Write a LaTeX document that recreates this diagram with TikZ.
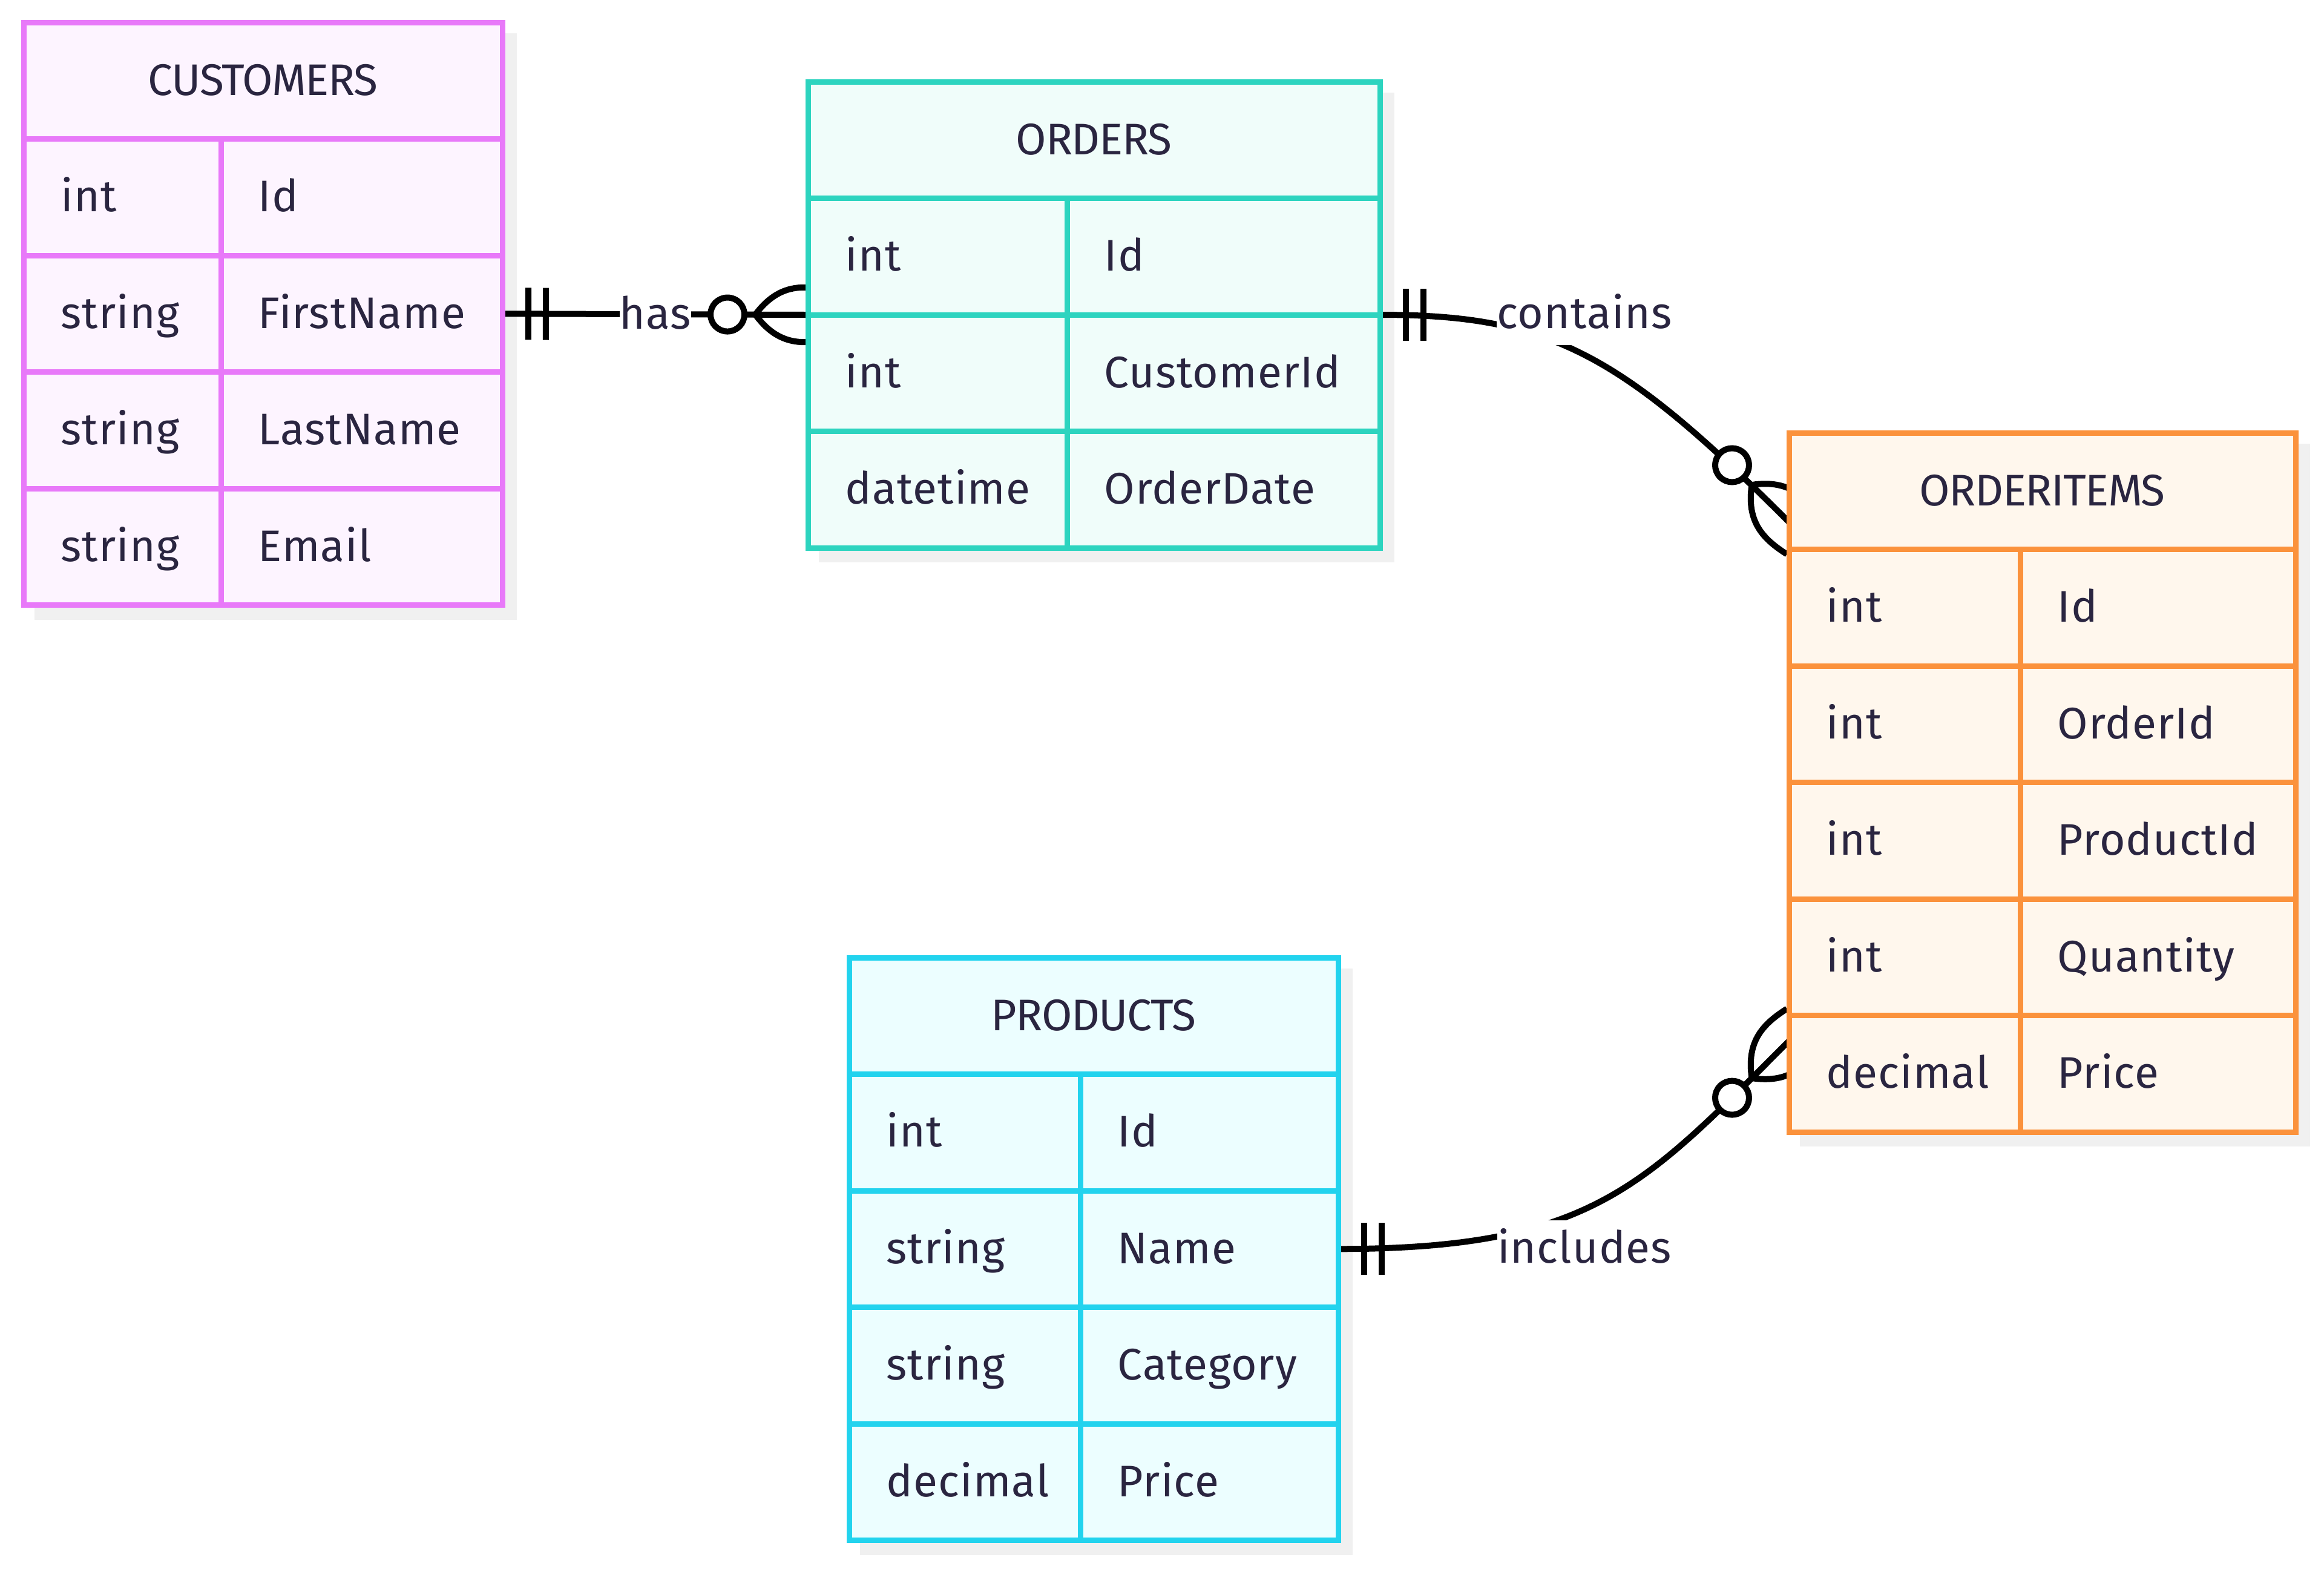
\documentclass[tikz,border=0pt]{standalone}
\usepackage{fontspec}
\setmainfont{Fira Sans}
\usetikzlibrary{positioning,calc}

\definecolor{ink}{HTML}{2A2540}
\definecolor{custline}{HTML}{E879F9}
\definecolor{custfill}{HTML}{FDF4FF}
\definecolor{ordline}{HTML}{2DD4BF}
\definecolor{ordfill}{HTML}{F0FDFA}
\definecolor{itemline}{HTML}{FB923C}
\definecolor{itemfill}{HTML}{FFF7ED}
\definecolor{prodline}{HTML}{22D3EE}
\definecolor{prodfill}{HTML}{ECFEFF}

\newcommand{\erfont}{\fontsize{20.8}{25}\selectfont}

\pgfdeclarelayer{shadow}
\pgfdeclarelayer{links}
\pgfsetlayers{shadow,links,main}

\tikzset{
    onlyone/.pic={
        \draw[link] (0.43,-0.43) -- (0.43,0.43) (0.72,-0.43) -- (0.72,0.43);
    },
    zeromany/.pic={
        \draw[link] (-0.87,0) .. controls (-0.5,0.5) and (-0.1,0.5) .. (0.35,0.4)
                    (-0.87,0) .. controls (-0.5,-0.5) and (-0.1,-0.5) .. (0.35,-0.4);
        \draw[link, fill=white] (-1.33,0) circle (0.28);
    }
}

\begin{document}
\begin{tikzpicture}[
    tbl/.style={draw, line width=0.9mm, inner sep=0pt, outer sep=0pt, anchor=north west},
    rule/.style={line width=0.9mm},
    head/.style={font={\erfont\addfontfeature{LetterSpace=-2}}, text=ink, anchor=base, inner sep=0pt},
    cell/.style={font={\erfont\addfontfeature{LetterSpace=1.5}}, text=ink, anchor=base west, inner sep=0pt},
    lbl/.style={font={\erfont\addfontfeature{LetterSpace=1.5}}, text=ink, fill=white, anchor=base, inner xsep=0pt, inner ysep=0pt, text height=0.7cm, text depth=0.28cm},
    link/.style={line width=1mm, black},
    shade/.style={fill=black!6}
]
\useasboundingbox (0,0) rectangle (38.4,-25.91);

% CUSTOMERS
\node[tbl, draw=custline, fill=custfill, minimum width=7.91cm, minimum height=9.625cm] (customers) at (0.39,-0.37) {};
\node[head] (customers-title) at ($(customers.north)+(0,-1.2)$) {CUSTOMERS};
\draw[rule, custline] ($(customers.north west)+(3.26,-1.925)$) -- ($(customers.south west)+(3.26,0)$);
\foreach \ty/\nm [count=\k from 0] in {int/Id, string/FirstName, string/LastName, string/Email} {
    \draw[rule, custline] ($(customers.north west)+(0,-1.925-1.925*\k)$) -- +(7.91,0);
    \node[cell] (customers-t\k) at ($(customers.north west)+(0.61,-3.1275-1.925*\k)$) {\ty};
    \node[cell] (customers-n\k) at ($(customers.north west)+(3.87,-3.1275-1.925*\k)$) {\nm};
}

% ORDERS
\node[tbl, draw=ordline, fill=ordfill, minimum width=9.45cm, minimum height=7.7cm] (orders) at (13.35,-1.35) {};
\node[head] (orders-title) at ($(orders.north)+(0,-1.2)$) {ORDERS};
\draw[rule, ordline] ($(orders.north west)+(4.28,-1.925)$) -- ($(orders.south west)+(4.28,0)$);
\foreach \ty/\nm [count=\k from 0] in {int/Id, int/CustomerId, datetime/OrderDate} {
    \draw[rule, ordline] ($(orders.north west)+(0,-1.925-1.925*\k)$) -- +(9.45,0);
    \node[cell] (orders-t\k) at ($(orders.north west)+(0.61,-3.1275-1.925*\k)$) {\ty};
    \node[cell] (orders-n\k) at ($(orders.north west)+(4.89,-3.1275-1.925*\k)$) {\nm};
}

% ORDERITEMS
\node[tbl, draw=itemline, fill=itemfill, minimum width=8.37cm, minimum height=11.55cm] (orderitems) at (29.56,-7.15) {};
\node[head] (orderitems-title) at ($(orderitems.north)+(0,-1.2)$) {ORDERITEMS};
\draw[rule, itemline] ($(orderitems.north west)+(3.82,-1.925)$) -- ($(orderitems.south west)+(3.82,0)$);
\foreach \ty/\nm [count=\k from 0] in {int/Id, int/OrderId, int/ProductId, int/Quantity, decimal/Price} {
    \draw[rule, itemline] ($(orderitems.north west)+(0,-1.925-1.925*\k)$) -- +(8.37,0);
    \node[cell] (orderitems-t\k) at ($(orderitems.north west)+(0.61,-3.1275-1.925*\k)$) {\ty};
    \node[cell] (orderitems-n\k) at ($(orderitems.north west)+(4.43,-3.1275-1.925*\k)$) {\nm};
}

% PRODUCTS
\node[tbl, draw=prodline, fill=prodfill, minimum width=8.08cm, minimum height=9.625cm] (products) at (14.03,-15.82) {};
\node[head] (products-title) at ($(products.north)+(0,-1.2)$) {PRODUCTS};
\draw[rule, prodline] ($(products.north west)+(3.82,-1.925)$) -- ($(products.south west)+(3.82,0)$);
\foreach \ty/\nm [count=\k from 0] in {int/Id, string/Name, string/Category, decimal/Price} {
    \draw[rule, prodline] ($(products.north west)+(0,-1.925-1.925*\k)$) -- +(8.08,0);
    \node[cell] (products-t\k) at ($(products.north west)+(0.61,-3.1275-1.925*\k)$) {\ty};
    \node[cell] (products-n\k) at ($(products.north west)+(4.43,-3.1275-1.925*\k)$) {\nm};
}

% Shadows
\begin{pgfonlayer}{shadow}
\foreach \t in {customers, orders, orderitems, products}
    \fill[shade] ([shift={(0.18,-0.18)}]\t.north west) rectangle ([shift={(0.24,-0.24)}]\t.south east);
\end{pgfonlayer}

% Relationships
\begin{pgfonlayer}{links}
\draw[link] (customers.east) -- (orders.west)
    pic[pos=0, sloped] {onlyone} pic[pos=1, sloped] {zeromany};
\draw[link] (orders.east) .. controls +(2.8,0) and +(-2.8,2.8) .. ([yshift=4.3cm]orderitems.west)
    pic[pos=0, sloped] {onlyone} pic[pos=1, sloped] {zeromany};
\draw[link] (products.east) .. controls +(4.2,0) and +(-2.4,-2.4) .. ([yshift=-4.27cm]orderitems.west)
    pic[pos=0, sloped] {onlyone} pic[pos=1, sloped] {zeromany};

% Labels
\node[lbl] (has) at (10.83,-5.43) {has};
\node[lbl] (contains) at (26.18,-5.42) {contains};
\node[lbl] (includes) at (26.18,-20.86) {includes};
\end{pgfonlayer}
\end{tikzpicture}
\end{document}
